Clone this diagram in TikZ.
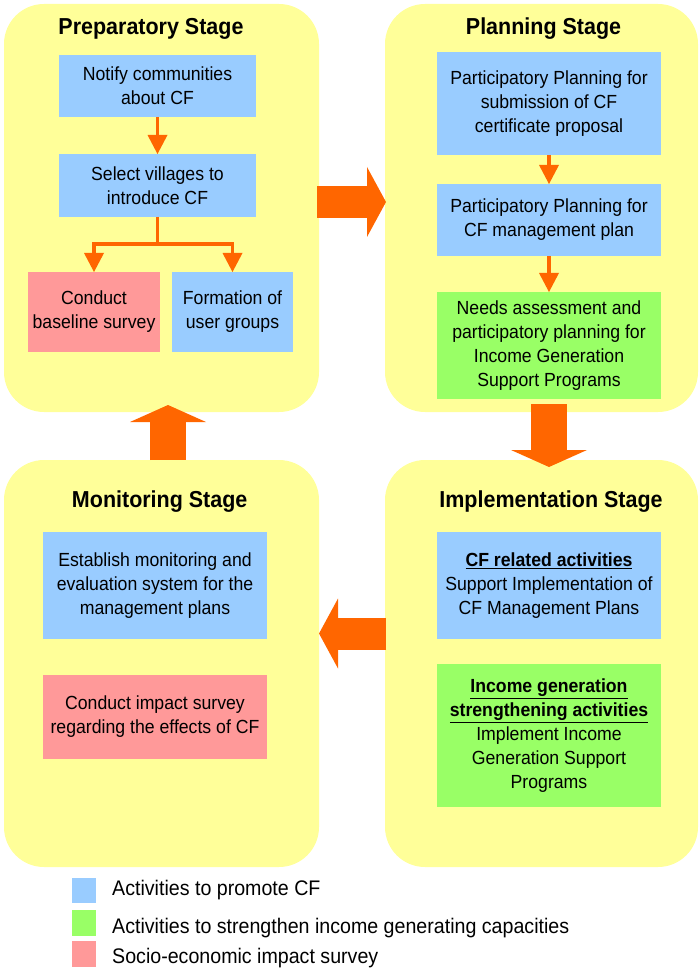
\documentclass[tikz,border=0pt]{standalone}
\usepackage{fontspec}
\setmainfont{Liberation Sans}[FakeStretch=0.93]
\usetikzlibrary{arrows.meta,calc}
\definecolor{panelyellow}{HTML}{FFFF99}
\definecolor{cfblue}{HTML}{99CCFF}
\definecolor{igreen}{HTML}{99FF66}
\definecolor{spink}{HTML}{FF9999}
\definecolor{arrorange}{HTML}{FF6600}
\newcommand{\myboxfont}{\fontsize{19}{24}\selectfont}
\newcommand{\mytitlefont}{\fontsize{23.1}{26}\selectfont\bfseries}
\newcommand{\mylegfont}{\fontsize{21.1}{24}\selectfont}
\begin{document}
\begin{tikzpicture}[x=1pt,y=-1pt,
  stagepanel/.style={fill=panelyellow, rounded corners=40pt, anchor=north west, inner sep=0pt, outer sep=0pt},
  stagetitle/.style={anchor=base, inner sep=0pt, font=\mytitlefont},
  actbox/.style={inner sep=2pt, outer sep=0pt, align=center, font=\myboxfont},
  bluebox/.style={actbox, fill=cfblue},
  greenbox/.style={actbox, fill=igreen},
  pinkbox/.style={actbox, fill=spink},
  flowarrow/.style={draw=arrorange, line width=3.5pt, -{Triangle[width=20pt,length=19pt,line width=0pt]}},
  bigharrow/.style={draw=arrorange, line width=32pt, -{Triangle[width=70pt,length=19pt,line width=0pt]}},
  bigvarrow/.style={draw=arrorange, line width=36pt, -{Triangle[width=76pt,length=17pt,line width=0pt]}},
  legendsq/.style={minimum width=24pt, minimum height=25pt, inner sep=0pt},
  legendtext/.style={anchor=base west, inner sep=0pt, font=\mylegfont}
]
\useasboundingbox (0,0) rectangle (699,973);

% stage panels
\node[stagepanel, minimum width=315pt, minimum height=408pt] (prep) at (4,4) {};
\node[stagepanel, minimum width=313pt, minimum height=408pt] (plan) at (385,4) {};
\node[stagepanel, minimum width=315pt, minimum height=407pt] (mon) at (4,460) {};
\node[stagepanel, minimum width=313pt, minimum height=407pt] (impl) at (385,460) {};

% titles
\node[stagetitle] (preptitle) at (151,35) {Preparatory Stage};
\node[stagetitle] (plantitle) at (543.5,35) {Planning Stage};
\node[stagetitle] (montitle) at (159.7,507) {Monitoring Stage};
\node[stagetitle] (impltitle) at (551,507) {Implementation Stage};

% preparatory stage
\node[bluebox, minimum width=197pt, minimum height=62pt] (notify) at (157.5,86) {Notify communities\\about CF};
\node[bluebox, minimum width=197pt, minimum height=63pt] (select) at (157.5,185.5) {Select villages to\\introduce CF};
\node[pinkbox, minimum width=132pt, minimum height=80pt] (baseline) at (94,312) {Conduct\\baseline survey};
\node[bluebox, minimum width=121pt, minimum height=80pt] (formation) at (232.5,312) {Formation of\\user groups};
\draw[flowarrow] (notify) -- (select);
\draw[flowarrow] (select.south) -- ++(0,27) -| (baseline.north);
\draw[flowarrow] (select.south) -- ++(0,27) -| (formation.north);

% planning stage
\node[bluebox, minimum width=224pt, minimum height=103pt] (pp1) at (549,103.5) {Participatory Planning for\\submission of CF\\certificate proposal};
\node[bluebox, minimum width=224pt, minimum height=72pt] (pp2) at (549,220) {Participatory Planning for\\CF management plan};
\node[greenbox, minimum width=224pt, minimum height=107pt] (needs) at (549,345.5) {Needs assessment and\\participatory planning for\\Income Generation\\Support Programs};
\draw[flowarrow] (pp1) -- (pp2);
\draw[flowarrow] (pp2) -- (needs);

% monitoring stage
\node[bluebox, minimum width=224pt, minimum height=107pt] (est) at (155,585.5) {Establish monitoring and\\evaluation system for the\\management plans};
\node[pinkbox, minimum width=224pt, minimum height=84pt] (impact) at (155,717) {Conduct impact survey\\regarding the effects of CF};

% implementation stage
\node[bluebox, minimum width=224pt, minimum height=107pt] (cfact) at (549,585.5) {\underline{\textbf{CF related activities}}\\Support Implementation of\\CF Management Plans};
\node[greenbox, minimum width=224pt, minimum height=143pt] (income) at (549,735.5) {\underline{\textbf{Income generation}}\\\underline{\textbf{strengthening activities}}\\Implement Income\\Generation Support\\Programs};

% big stage arrows
\draw[bigharrow] ($(prep.east)+(-2,-6)$) -- ($(plan.west)+(1,-6)$);
\draw[bigvarrow] ($(plan.south)+(7.5,-8)$) -- ($(impl.north)+(7.5,7)$);
\draw[bigharrow] ($(impl.west)+(1,-30)$) -- ($(mon.east)+(0,-30)$);
\draw[bigvarrow] ($(mon.north)+(6.5,0)$) -- ($(prep.south)+(6.5,-7)$);

% legend
\node[legendsq, fill=cfblue] (lblue) at (84,890.5) {};
\node[legendsq, fill=igreen, minimum height=26pt] (lgreen) at (84,923) {};
\node[legendsq, fill=spink, minimum height=26pt] (lpink) at (84,954) {};
\node[legendtext] (tblue) at (112,895) {Activities to promote CF};
\node[legendtext] (tgreen) at (112,933) {Activities to strengthen income generating capacities};
\node[legendtext] (tpink) at (112,963) {Socio-economic impact survey};
\end{tikzpicture}
\end{document}
